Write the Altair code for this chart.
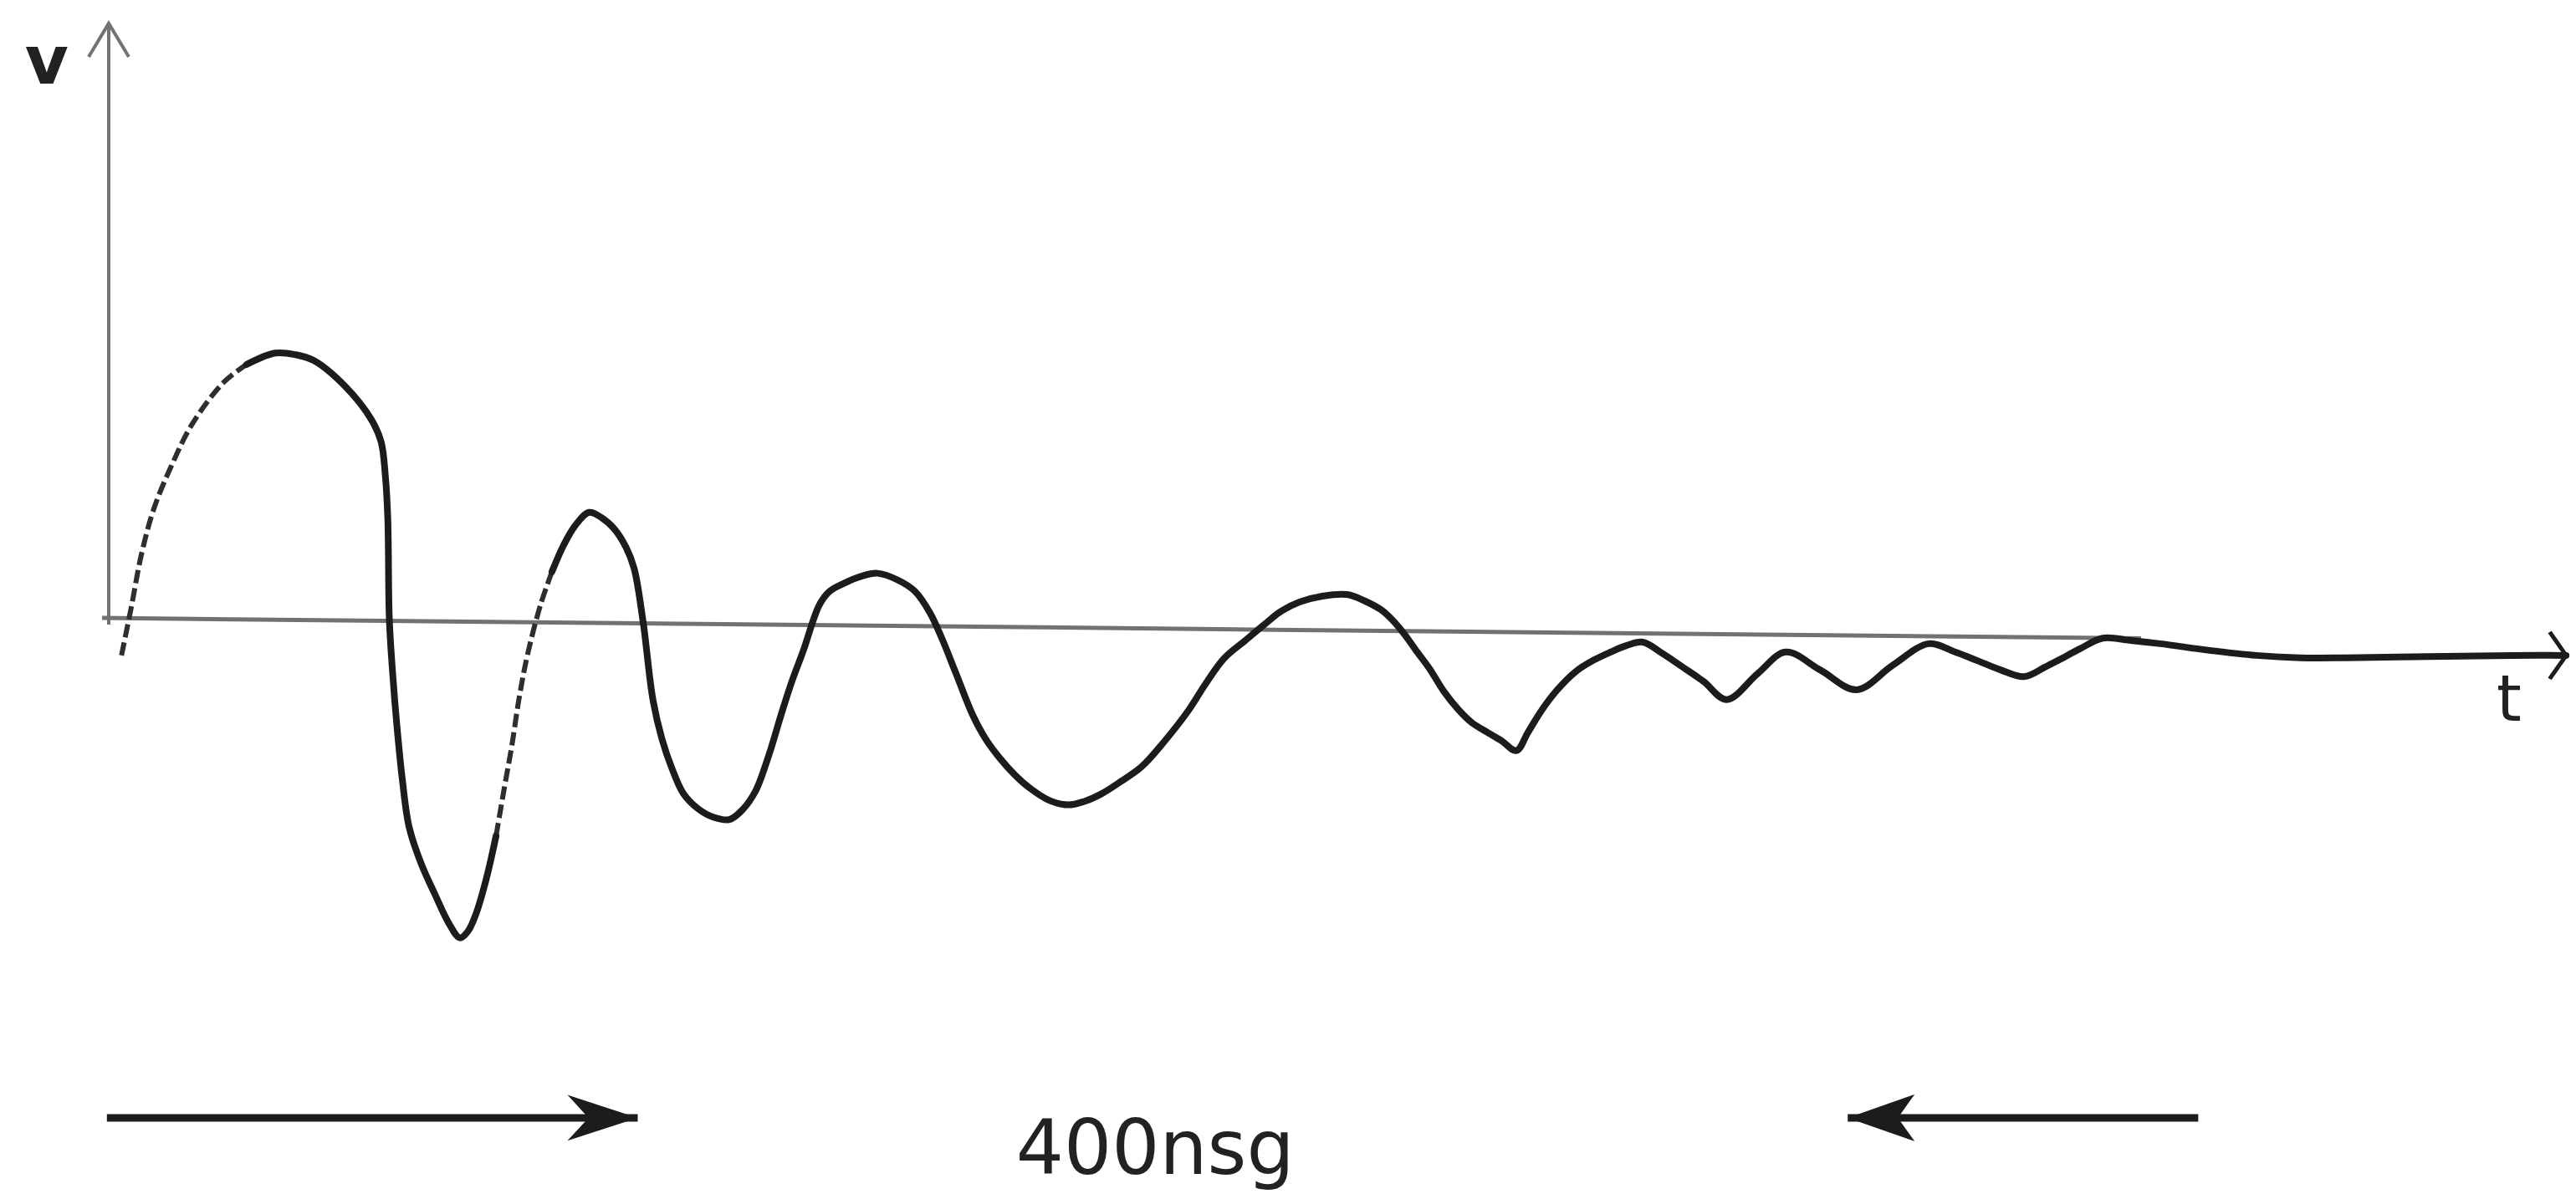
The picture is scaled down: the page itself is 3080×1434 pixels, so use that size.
import altair as alt
import pandas as pd

# ---- curve values: time t (ns) and normalised voltage v -------------------
# first rise (drawn dashed / faint in the sketch)
rise1_t = [4.2, 7.5, 10.7, 14.8, 21.0, 27.5, 37.7, 45.3]
rise1_v = [-0.138, 0.048, 0.239, 0.412, 0.585, 0.733, 0.888, 0.956]

# first big swing (solid)
swing1_t = [45.3, 54.8, 61.5, 67.5, 77.7, 86.4, 89.6, 91.0, 91.8, 92.3, 93.4,
            94.7, 96.6, 98.8, 102.6, 107.4, 111.8, 115.5, 118.2, 120.9, 124.2,
            127.4]
swing1_v = [0.956, 0.999, 0.993, 0.971, 0.875, 0.749, 0.665, 0.536, 0.375,
            -0.002, -0.206, -0.391, -0.607, -0.783, -0.916, -1.039, -1.144,
            -1.200, -1.175, -1.107, -0.978, -0.817]

# second rise (dashed / faint)
rise2_t = [127.4, 130.1, 132.6, 135.0, 137.7, 142.0, 145.8]
rise2_v = [-0.817, -0.638, -0.477, -0.298, -0.138, 0.051, 0.177]

# damped ringing (solid)
decay_t = [145.8, 149.6, 153.4, 158.0, 162.0, 166.3, 170.1, 172.8, 175.8, 179.0,
           182.0, 185.3, 189.0, 193.9, 198.8, 204.2, 208.5, 212.8, 217.1, 221.2,
           224.7, 228.5, 233.7, 237.1, 242.0, 247.4, 252.8, 259.3, 265.2, 270.1,
           273.9, 278.7, 284.1, 288.5, 293.3, 298.2, 303.1, 309.0, 315.5, 320.9,
           326.3, 332.8, 339.8, 347.4, 355.1, 360.9, 366.8, 373.8, 380.3, 385.7,
           391.7, 399.2, 407.3, 413.3, 418.7, 422.5, 426.5, 430.0, 434.4, 439.2,
           443.9, 448.4, 453.6, 458.1, 463.0, 466.8, 471.1, 476.5, 482.5, 488.4,
           494.1, 499.2, 504.6, 511.1, 517.6, 524.6, 532.2, 542.4, 551.6, 563.0,
           574.9, 586.8, 598.6, 607.3, 614.3, 622.4, 630.0, 637.0, 641.3, 648.4,
           655.9, 665.1, 674.8, 691.0, 706.4, 720.8, 735.6, 753.2, 773.7, 791.0,
           808.3]
decay_v = [0.177, 0.276, 0.350, 0.400, 0.381, 0.338, 0.270, 0.190, -0.014, -0.304,
           -0.453, -0.564, -0.657, -0.715, -0.746, -0.755, -0.718, -0.647, -0.514,
           -0.360, -0.236, -0.119, 0.051, 0.103, 0.134, 0.159, 0.171, 0.147, 0.103,
           0.023, -0.070, -0.206, -0.360, -0.453, -0.527, -0.589, -0.638, -0.681,
           -0.700, -0.687, -0.660, -0.613, -0.556, -0.459, -0.346, -0.243, -0.150,
           -0.082, -0.020, 0.029, 0.063, 0.085, 0.091, 0.066, 0.032, -0.008, -0.063,
           -0.119, -0.187, -0.274, -0.341, -0.391, -0.428, -0.459, -0.496, -0.428,
           -0.348, -0.267, -0.199, -0.156, -0.125, -0.101, -0.088, -0.131, -0.181,
           -0.236, -0.304, -0.206, -0.125, -0.193, -0.267, -0.175, -0.094, -0.125,
           -0.156, -0.193, -0.218, -0.181, -0.156, -0.113, -0.073, -0.082, -0.094,
           -0.119, -0.138, -0.147, -0.147, -0.144, -0.141, -0.138, -0.138]

# hand-drawn axes (t in ns, v normalised)
x_axis_t = [-2.2, 668.5]
x_axis_v = [0.003, -0.074]
y_axis_t = [0.0, 0.0]
y_axis_v = [-0.022, 2.239]
x_arrow_tip = (808.3, -0.138)
y_arrow_tip = (0.0, 2.239)

# 400 ns marker arrows
marker_level = -1.877
marker_left_t = [-0.6, 174.0]     # shaft of the right-pointing arrow
marker_right_t = [572.0, 687.3]   # shaft of the left-pointing arrow
marker_label = "400nsg"
marker_label_pos = (344.2, -2.088)

v_label_pos = (-20.4, 2.014)
t_label_pos = (789.5, -0.384)

# ---- scales ----------------------------------------------------------------
W, H = 3064, 1418
x_dom = [-33.56, 809.35]
y_dom = [2.3019 - H / 318.0, 2.3019]
xs = alt.Scale(domain=x_dom, nice=False, zero=False)
ys = alt.Scale(domain=y_dom, nice=False, zero=False)
X = lambda f="t": alt.X(f"{f}:Q", scale=xs, axis=None)
Y = lambda f="v": alt.Y(f"{f}:Q", scale=ys, axis=None)

INK = "#1c1c1c"
GREY = "#727272"

solid = pd.concat([
    pd.DataFrame({"t": swing1_t, "v": swing1_v, "seg": "a"}),
    pd.DataFrame({"t": decay_t, "v": decay_v, "seg": "b"}),
])
dashed = pd.concat([
    pd.DataFrame({"t": rise1_t, "v": rise1_v, "seg": "a"}),
    pd.DataFrame({"t": rise2_t, "v": rise2_v, "seg": "b"}),
])

solid_line = alt.Chart(solid).mark_line(
    color=INK, strokeWidth=8, interpolate="catmull-rom", strokeCap="round",
    strokeJoin="round").encode(x=X(), y=Y(), detail="seg:N", order="t:Q")
dashed_line = alt.Chart(dashed).mark_line(
    color="#2e2e2e", strokeWidth=6, interpolate="catmull-rom",
    strokeDash=[16, 6]).encode(x=X(), y=Y(), detail="seg:N", order="t:Q")

xaxis = alt.Chart(pd.DataFrame({"t": x_axis_t, "v": x_axis_v})).mark_line(
    color=GREY, strokeWidth=5).encode(x=X(), y=Y())
yaxis = alt.Chart(pd.DataFrame({"t": y_axis_t, "v": y_axis_v})).mark_line(
    color=GREY, strokeWidth=4).encode(x=X(), y=Y())

yhead = alt.Chart(pd.DataFrame({"t": [y_arrow_tip[0]], "v": [y_arrow_tip[1]]})).mark_point(
    shape="M-0.6,1L0,0L0.6,1", size=6400, filled=False, color=GREY,
    strokeWidth=4, opacity=1).encode(x=X(), y=Y())
xhead = alt.Chart(pd.DataFrame({"t": [x_arrow_tip[0]], "v": [x_arrow_tip[1]]})).mark_point(
    shape="M-0.7,-1L0,0L-0.7,1", size=3136, filled=False, color=INK,
    strokeWidth=5, opacity=1).encode(x=X(), y=Y())

shafts = alt.Chart(pd.DataFrame({
    "t": marker_left_t + marker_right_t,
    "v": [marker_level] * 4,
    "s": ["l", "l", "r", "r"]})).mark_line(
    color=INK, strokeWidth=9).encode(x=X(), y=Y(), detail="s:N")

head_r = alt.Chart(pd.DataFrame({"t": [marker_left_t[1]], "v": [marker_level]})).mark_point(
    shape="M0,0L-2,-0.65L-1.4,0L-2,0.65Z", size=7056, filled=True, color=INK,
    opacity=1).encode(x=X(), y=Y())
head_l = alt.Chart(pd.DataFrame({"t": [marker_right_t[0]], "v": [marker_level]})).mark_point(
    shape="M0,0L2,-0.7L1.5,0L2,0.7Z", size=6400, filled=True, color=INK,
    opacity=1).encode(x=X(), y=Y())

def label(txt, pos, size, weight="normal"):
    return alt.Chart(pd.DataFrame({"t": [pos[0]], "v": [pos[1]], "txt": [txt]})).mark_text(
        font="DejaVu Sans", fontSize=size, fontWeight=weight, color="#222222",
        align="center", baseline="alphabetic").encode(x=X(), y=Y(), text="txt:N")

labels = (label("v", v_label_pos, 80, "bold")
          + label("t", t_label_pos, 76)
          + label(marker_label, marker_label_pos, 90))

chart = alt.layer(
    xaxis, yaxis, yhead, dashed_line, solid_line, xhead, shafts, head_r, head_l, labels
).properties(
    width=W, height=H, padding=0, background="white",
    autosize=alt.AutoSizeParams(type="none"),
).configure_view(stroke=None)

chart.save("out.html", embed_options={"renderer": "svg", "actions": False})
